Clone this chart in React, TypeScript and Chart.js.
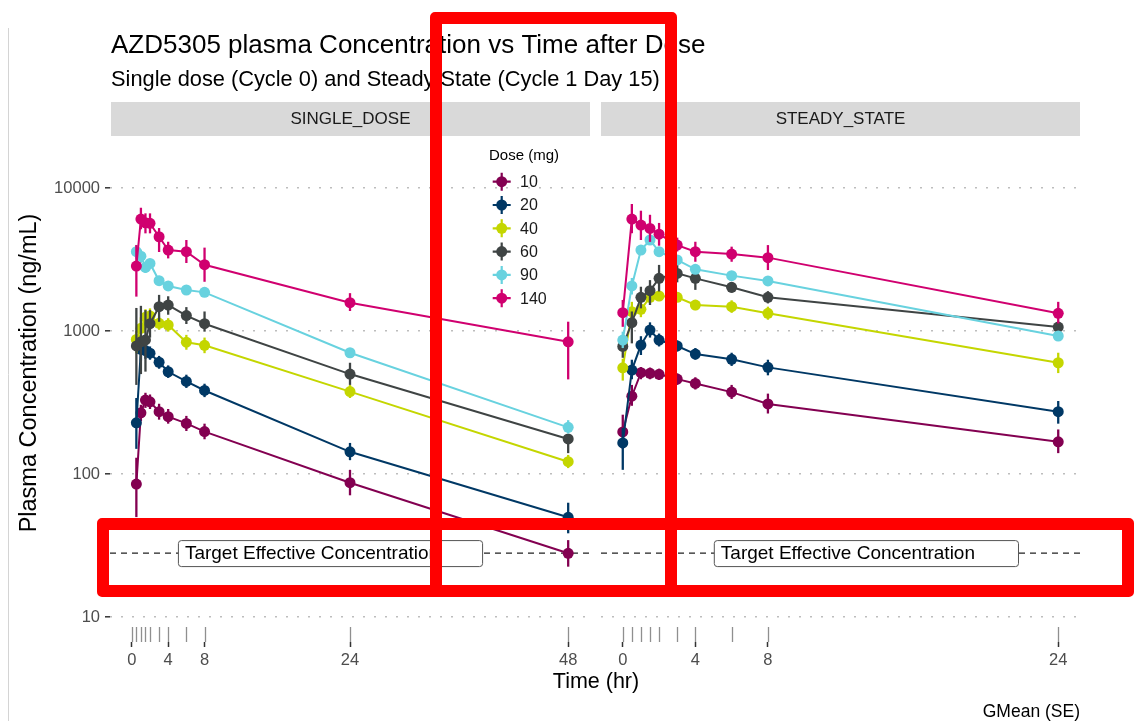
import React, { useEffect, useRef } from "react";
import { Chart, registerables } from "chart.js";
Chart.register(...registerables);

const W = 1140;
const H = 721;
const FONT = '"Liberation Sans", Arial, Helvetica, sans-serif';

const DOSES = ["10", "20", "40", "60", "90", "140"];
const COLORS = ["#830051", "#003865", "#C4D600", "#3F4444", "#68D2DF", "#D0006F"];

// Single dose (Cycle 0)
const SD_TIME = [0.5, 1, 1.5, 2, 3, 4, 6, 8, 24, 48];
const SD_GMEAN = [
  [85, 268, 329, 320, 273, 252, 226, 198, 87, 27.9],
  [228, 745, 730, 700, 605, 519, 444, 384, 143, 49.8],
  [874, 1045, 1250, 1274, 1132, 1102, 835, 795, 377, 122],
  [786, 841, 867, 1125, 1479, 1520, 1283, 1125, 500, 176],
  [3585, 3340, 2785, 2970, 2250, 2066, 1936, 1864, 705, 212],
  [2848, 6068, 5715, 5660, 4563, 3681, 3585, 2908, 1578, 841],
];
const SD_LOWER = [
  [50, 235, 290, 285, 240, 225, 200, 175, 71, 22.5],
  [150, 620, 640, 630, 545, 470, 400, 345, 125, 38.5],
  [700, 880, 1100, 1130, 1020, 990, 740, 700, 340, 110],
  [420, 500, 520, 900, 1160, 1300, 1120, 990, 420, 140],
  [3200, 3000, 2550, 2750, 2080, 1930, 1810, 1750, 660, 192],
  [1740, 5150, 4820, 4820, 3570, 3220, 2990, 2210, 1380, 459],
];
const SD_UPPER = [
  [130, 305, 370, 360, 310, 285, 255, 225, 107, 34.5],
  [340, 880, 830, 780, 670, 575, 495, 428, 165, 63],
  [1000, 1240, 1420, 1440, 1260, 1230, 940, 900, 420, 136],
  [1450, 1500, 1400, 1400, 1790, 1750, 1470, 1370, 600, 190],
  [4000, 3700, 3050, 3200, 2430, 2210, 2070, 1990, 750, 238],
  [3990, 7280, 6650, 6650, 5250, 4210, 4330, 3830, 1840, 1162],
];

// Steady state (Cycle 1 Day 15)
const SS_TIME = [0, 0.5, 1, 1.5, 2, 3, 4, 6, 8, 24];
const SS_GMEAN = [
  [197, 350, 511, 506, 498, 461, 430, 374, 309, 168],
  [165, 533, 798, 1016, 865, 786, 690, 634, 557, 273],
  [553, 1365, 1418, 1721, 1758, 1721, 1520, 1479, 1330, 600],
  [780, 1143, 1721, 1915, 2335, 2530, 2335, 2022, 1721, 1066],
  [865, 2066, 3681, 4330, 3585, 3140, 2700, 2440, 2240, 923],
  [1343, 6068, 5510, 5220, 4760, 3990, 3585, 3450, 3260, 1330],
];
const SS_LOWER = [
  [150, 300, 460, 460, 455, 420, 390, 335, 265, 140],
  [107, 460, 680, 900, 780, 720, 630, 570, 490, 225],
  [450, 1050, 1250, 1580, 1620, 1600, 1400, 1340, 1200, 508],
  [650, 820, 1440, 1520, 1890, 2190, 1940, 1850, 1560, 990],
  [760, 1800, 3400, 4000, 3300, 2950, 2550, 2300, 2100, 860],
  [1070, 4830, 4330, 4200, 3950, 3600, 3050, 3050, 2670, 1130],
];
const SS_UPPER = [
  [260, 420, 560, 555, 545, 505, 475, 420, 365, 205],
  [210, 630, 920, 1150, 960, 860, 760, 705, 630, 324],
  [640, 1600, 1550, 1880, 1900, 1850, 1650, 1640, 1480, 705],
  [880, 1370, 2040, 2270, 2900, 2900, 2750, 2200, 1900, 1150],
  [990, 2350, 3950, 4650, 3850, 3330, 2860, 2580, 2380, 990],
  [1650, 7730, 6940, 6500, 5700, 4500, 4210, 3890, 3990, 1600],
];

const Y_TICKS = [10, 100, 1000, 10000];
const SD_X_TICKS = [0, 4, 8, 24, 48];
const SS_X_TICKS = [0, 4, 8, 24];
const SD_RUG = [0, 0.5, 1, 1.5, 2, 3, 4, 6, 8, 24, 48];
const SS_RUG = [0, 0.5, 1, 1.5, 2, 3, 4, 6, 8, 24];
const TARGET = 28;
const TARGET_LABEL = "Target Effective Concentration";
const SD_LABEL_X = 21.8;
const SS_LABEL_X = 13.4;

const Y_MIN = 6.69;
const Y_MAX = 22740;

const TITLE = "AZD5305 plasma Concentration vs Time after Dose";
const SUBTITLE = "Single dose (Cycle 0) and Steady State (Cycle 1 Day 15)";
const STRIPS = ["SINGLE_DOSE", "STEADY_STATE"];
const Y_TITLE = "Plasma Concentration (ng/mL)";
const X_TITLE = "Time (hr)";
const CAPTION = "GMean (SE)";
const LEGEND_TITLE = "Dose (mg)";

const errorBars = {
  id: "errorBars",
  beforeDatasetDraw(chart: any, args: any) {
    const ds = chart.data.datasets[args.index];
    const ctx = chart.ctx;
    const xs = chart.scales.x;
    const ys = chart.scales.y;
    ctx.save();
    ctx.beginPath();
    ctx.rect(chart.chartArea.left, chart.chartArea.top, chart.chartArea.right - chart.chartArea.left, chart.chartArea.bottom - chart.chartArea.top);
    ctx.clip();
    ctx.strokeStyle = ds.borderColor;
    ctx.lineWidth = 2.3;
    ds.lower.forEach((lo: number, j: number) => {
      const x = xs.getPixelForValue(ds.data[j].x);
      ctx.beginPath();
      ctx.moveTo(x, ys.getPixelForValue(lo));
      ctx.lineTo(x, ys.getPixelForValue(ds.upper[j]));
      ctx.stroke();
    });
    ctx.restore();
  },
};

const panelDecor = {
  id: "panelDecor",
  beforeDatasetsDraw(chart: any) {
    const ctx = chart.ctx;
    const { left, right, bottom } = chart.chartArea;
    const xs = chart.scales.x;
    const ys = chart.scales.y;
    const o = chart.options.plugins.panelDecor;
    ctx.save();
    // rug
    ctx.strokeStyle = "#8f8f8f";
    ctx.lineWidth = 1.3;
    o.rug.forEach((t: number) => {
      const x = Math.round(xs.getPixelForValue(t)) + 0.5;
      ctx.beginPath();
      ctx.moveTo(x, bottom - 15);
      ctx.lineTo(x, bottom);
      ctx.stroke();
    });
    // target line
    const ty = ys.getPixelForValue(TARGET);
    ctx.strokeStyle = "#222";
    ctx.lineWidth = 1.3;
    ctx.setLineDash([6, 5]);
    ctx.beginPath();
    ctx.moveTo(left, ty);
    ctx.lineTo(right, ty);
    ctx.stroke();
    ctx.setLineDash([]);
    // target label
    ctx.font = `19px ${FONT}`;
    const tw = ctx.measureText(TARGET_LABEL).width;
    const bw = tw + 50;
    const bh = 26;
    const cx = xs.getPixelForValue(o.labelX);
    const bx = cx - bw / 2;
    const by = ty - bh / 2;
    ctx.beginPath();
    if (ctx.roundRect) ctx.roundRect(bx + 0.5, by + 0.5, bw, bh, 3);
    else ctx.rect(bx + 0.5, by + 0.5, bw, bh);
    ctx.fillStyle = "#fff";
    ctx.fill();
    ctx.strokeStyle = "#555";
    ctx.lineWidth = 1;
    ctx.stroke();
    ctx.fillStyle = "#000";
    ctx.textBaseline = "middle";
    ctx.textAlign = "left";
    ctx.fillText(TARGET_LABEL, bx + 7, ty + 1);
    ctx.restore();
  },
};

const pageText = {
  id: "pageText",
  beforeDraw(chart: any) {
    if (!chart.options.plugins.pageText.show) return;
    const ctx = chart.ctx;
    ctx.save();
    ctx.fillStyle = "#fff";
    ctx.fillRect(0, 0, W, H);
    ctx.strokeStyle = "#d4d4d4";
    ctx.lineWidth = 1;
    ctx.beginPath();
    ctx.moveTo(8.5, 28);
    ctx.lineTo(8.5, H);
    ctx.stroke();
    ctx.fillStyle = "#d9d9d9";
    ctx.fillRect(111, 102, 479, 34);
    ctx.fillRect(601, 102, 479, 34);
    ctx.fillStyle = "#1a1a1a";
    ctx.textBaseline = "middle";
    ctx.textAlign = "center";
    ctx.font = `17px ${FONT}`;
    ctx.fillText(STRIPS[0], 350.5, 119);
    ctx.fillText(STRIPS[1], 840.5, 119);
    ctx.fillStyle = "#000";
    ctx.textAlign = "left";
    ctx.font = `26px ${FONT}`;
    ctx.fillText(TITLE, 111, 46);
    ctx.font = `21.8px ${FONT}`;
    ctx.fillText(SUBTITLE, 111, 79.5);
    ctx.textAlign = "center";
    ctx.font = `21.5px ${FONT}`;
    ctx.fillText(X_TITLE, 596, 682);
    ctx.save();
    ctx.translate(30, 373);
    ctx.rotate(-Math.PI / 2);
    ctx.font = `23.5px ${FONT}`;
    ctx.fillText(Y_TITLE, 0, 0);
    ctx.restore();
    ctx.textAlign = "right";
    ctx.font = `17.5px ${FONT}`;
    ctx.fillText(CAPTION, 1080, 712);
    ctx.restore();
  },
  afterDraw(chart: any) {
    if (!chart.options.plugins.pageText.show) return;
    const ctx = chart.ctx;
    ctx.save();
    ctx.textBaseline = "middle";
    ctx.textAlign = "left";
    ctx.fillStyle = "#000";
    ctx.font = `15px ${FONT}`;
    ctx.fillText(LEGEND_TITLE, 489, 156);
    DOSES.forEach((d, i) => {
      const y = 181.7 + i * 23.3;
      const x = 501.7;
      ctx.strokeStyle = COLORS[i];
      ctx.fillStyle = COLORS[i];
      ctx.lineWidth = 2.2;
      ctx.beginPath();
      ctx.moveTo(x - 9, y);
      ctx.lineTo(x + 9, y);
      ctx.moveTo(x, y - 9);
      ctx.lineTo(x, y + 9);
      ctx.stroke();
      ctx.beginPath();
      ctx.arc(x, y, 5.5, 0, Math.PI * 2);
      ctx.fill();
      ctx.fillStyle = "#1a1a1a";
      ctx.font = `16px ${FONT}`;
      ctx.fillText(d, 520, y + 1);
    });
    ctx.restore();
  },
};

function makeConfig(which: "sd" | "ss"): any {
  const sd = which === "sd";
  const time = sd ? SD_TIME : SS_TIME;
  const gm = sd ? SD_GMEAN : SS_GMEAN;
  const lo = sd ? SD_LOWER : SS_LOWER;
  const hi = sd ? SD_UPPER : SS_UPPER;
  const xTicks = sd ? SD_X_TICKS : SS_X_TICKS;
  const datasets = DOSES.map((d, i) => ({
    label: d,
    data: time.map((t, j) => ({ x: t, y: gm[i][j] })),
    lower: lo[i],
    upper: hi[i],
    borderColor: COLORS[i],
    backgroundColor: COLORS[i],
    pointBackgroundColor: COLORS[i],
    borderWidth: 2,
    pointRadius: 5.5,
    pointHoverRadius: 5.5,
    pointBorderWidth: 0,
    tension: 0,
    order: DOSES.length - 1 - i,
  }));
  return {
    type: "line",
    data: { datasets },
    plugins: [pageText, panelDecor, errorBars],
    options: {
      responsive: false,
      animation: false,
      events: [],
      layout: {
        padding: sd
          ? { left: 0, top: 137, right: W - 590, bottom: 0 }
          : { left: 601, top: 137, right: W - 1080, bottom: 0 },
      },
      plugins: {
        legend: { display: false },
        tooltip: { enabled: false },
        title: { display: false },
        pageText: { show: sd },
        panelDecor: { rug: sd ? SD_RUG : SS_RUG, labelX: sd ? SD_LABEL_X : SS_LABEL_X },
      },
      scales: {
        x: {
          type: "linear",
          min: sd ? -2.4 : -1.2,
          max: sd ? 50.4 : 25.2,
          afterBuildTicks: (s: any) => {
            s.ticks = xTicks.map((v) => ({ value: v }));
          },
          afterFit: (s: any) => {
            s.height = H - 642;
          },
          grid: {
            drawOnChartArea: false,
            drawTicks: true,
            tickLength: 5,
            tickColor: "#333",
            tickWidth: 1.5,
          },
          border: { display: false },
          ticks: {
            autoSkip: false,
            maxRotation: 0,
            padding: 4,
            color: "#4d4d4d",
            font: { family: FONT, size: 16.5 },
            callback: (v: any) => String(v),
          },
        },
        y: {
          type: "logarithmic",
          min: Y_MIN,
          max: Y_MAX,
          afterBuildTicks: (s: any) => {
            s.ticks = Y_TICKS.map((v) => ({ value: v }));
          },
          afterFit: (s: any) => {
            s.width = sd ? 110 : 0;
          },
          grid: {
            color: "#bdbdbd",
            lineWidth: 1.6,
            drawTicks: sd,
            tickLength: 5,
            tickColor: "#333",
            tickWidth: 1.5,
          },
          border: { display: false, dash: [2, 9] },
          ticks: {
            display: sd,
            padding: 5,
            color: "#4d4d4d",
            font: { family: FONT, size: 16.5 },
            callback: (v: any) => String(v),
          },
        },
      },
    },
  };
}

export default function App() {
  const leftRef = useRef<HTMLCanvasElement>(null);
  const rightRef = useRef<HTMLCanvasElement>(null);
  useEffect(() => {
    const c1 = new Chart(leftRef.current as HTMLCanvasElement, makeConfig("sd"));
    const c2 = new Chart(rightRef.current as HTMLCanvasElement, makeConfig("ss"));
    return () => {
      c1.destroy();
      c2.destroy();
    };
  }, []);
  return (
    <div style={{ position: "absolute", left: 0, top: 0, width: W, height: H, background: "#fff", overflow: "hidden" }}>
      <canvas ref={leftRef} width={W} height={H} style={{ position: "absolute", left: 0, top: 0 }} />
      <canvas ref={rightRef} width={W} height={H} style={{ position: "absolute", left: 0, top: 0 }} />
      <div
        style={{
          position: "absolute",
          left: 430,
          top: 12,
          width: 247,
          height: 585,
          border: "12px solid #ff0000",
          borderRadius: 5,
          boxSizing: "border-box",
        }}
      />
      <div
        style={{
          position: "absolute",
          left: 97,
          top: 518,
          width: 1037,
          height: 79,
          border: "12px solid #ff0000",
          borderRadius: 5,
          boxSizing: "border-box",
        }}
      />
    </div>
  );
}
